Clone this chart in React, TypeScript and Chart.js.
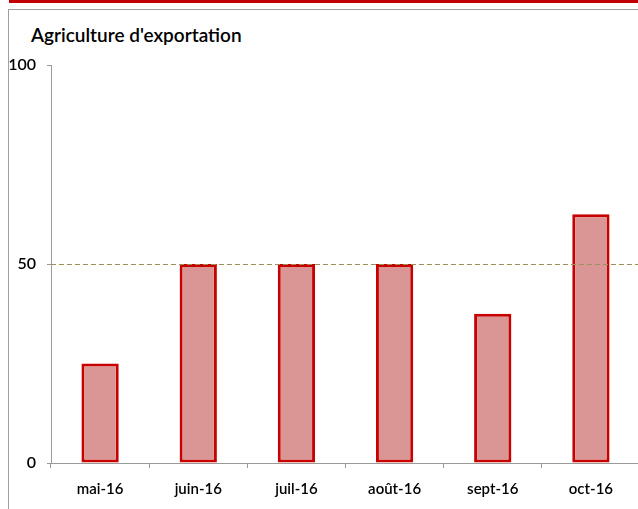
import React, { useEffect, useRef } from "react";
import { Chart, registerables } from "chart.js";

Chart.register(...registerables);

const categories = ["mai-16", "juin-16", "juil-16", "août-16", "sept-16", "oct-16"];
const values = [25, 50, 50, 50, 37.5, 62.5];
const yTicks = [0, 50, 100];
const referenceLevel = 50;
const titleText = "Agriculture d'exportation";

const FONT = "Lato, 'Open Sans', sans-serif";

const refLinePlugin = {
  id: "refLine",
  afterDatasetsDraw(chart: any) {
    const { ctx, chartArea, scales } = chart;
    const y = Math.round(scales.y.getPixelForValue(referenceLevel)) + 0.5;
    ctx.save();
    ctx.strokeStyle = "#9E8F5C";
    ctx.lineWidth = 1;
    ctx.setLineDash([5, 3]);
    ctx.beginPath();
    ctx.moveTo(chartArea.left, y);
    ctx.lineTo(chartArea.right, y);
    ctx.stroke();
    ctx.restore();
  },
};

export default function App() {
  const ref = useRef<HTMLCanvasElement | null>(null);

  useEffect(() => {
    document.body.style.overflow = "hidden";
    const chart = new Chart(ref.current as HTMLCanvasElement, {
      type: "bar",
      data: {
        labels: categories,
        datasets: [
          {
            data: values,
            backgroundColor: "#D99694",
            borderColor: "#C80000",
            borderWidth: 3,
            borderSkipped: false,
            categoryPercentage: 1,
            barPercentage: 0.38,
          },
        ],
      },
      options: {
        animation: false,
        responsive: false,
        maintainAspectRatio: false,
        layout: { padding: { top: 55, left: 0, right: 0, bottom: 0 } },
        plugins: {
          legend: { display: false },
          tooltip: { enabled: false },
          title: { display: false },
        },
        scales: {
          x: {
            offset: true,
            grid: {
              offset: true,
              drawOnChartArea: false,
              drawTicks: true,
              tickLength: 5,
              color: "#9A9A9A",
            },
            border: { display: true, color: "#9A9A9A", width: 1 },
            ticks: {
              color: "#000",
              font: { family: FONT, size: 15, weight: "600" },
              padding: 12,
              maxRotation: 0,
              autoSkip: false,
            },
            afterFit(scale: any) {
              scale.height = 46;
            },
          },
          y: {
            min: 0,
            max: 100,
            afterBuildTicks(scale: any) {
              scale.ticks = yTicks.map((v) => ({ value: v }));
            },
            grid: {
              drawOnChartArea: false,
              drawTicks: true,
              tickLength: 4,
              color: "#9A9A9A",
            },
            border: { display: true, color: "#9A9A9A", width: 1 },
            ticks: {
              color: "#000",
              font: { family: FONT, size: 16, weight: "600" },
              padding: 11,
            },
            afterFit(scale: any) {
              scale.width = 42;
            },
          },
        },
      },
      plugins: [refLinePlugin],
    });
    return () => chart.destroy();
  }, []);

  return (
    <div>
      <div
        style={{
          position: "fixed",
          left: 9,
          top: 0,
          width: 640,
          height: 3,
          background: "#C00000",
        }}
      />
      <div
        style={{
          position: "fixed",
          left: 8,
          top: 9,
          width: 640,
          height: 510,
          borderLeft: "1px solid #A0A0A0",
          borderTop: "1px solid #A0A0A0",
          background: "#fff",
        }}
      >
        <div
          style={{
            position: "absolute",
            left: 22,
            top: 13,
            fontFamily: FONT,
            fontSize: 19,
            fontWeight: 600,
            color: "#000",
            lineHeight: "24px",
            whiteSpace: "nowrap",
          }}
        >
          {titleText}
        </div>
        <canvas
          ref={ref}
          width={631}
          height={499}
          style={{ position: "absolute", left: 0, top: 0, width: 631, height: 499 }}
        />
      </div>
    </div>
  );
}
